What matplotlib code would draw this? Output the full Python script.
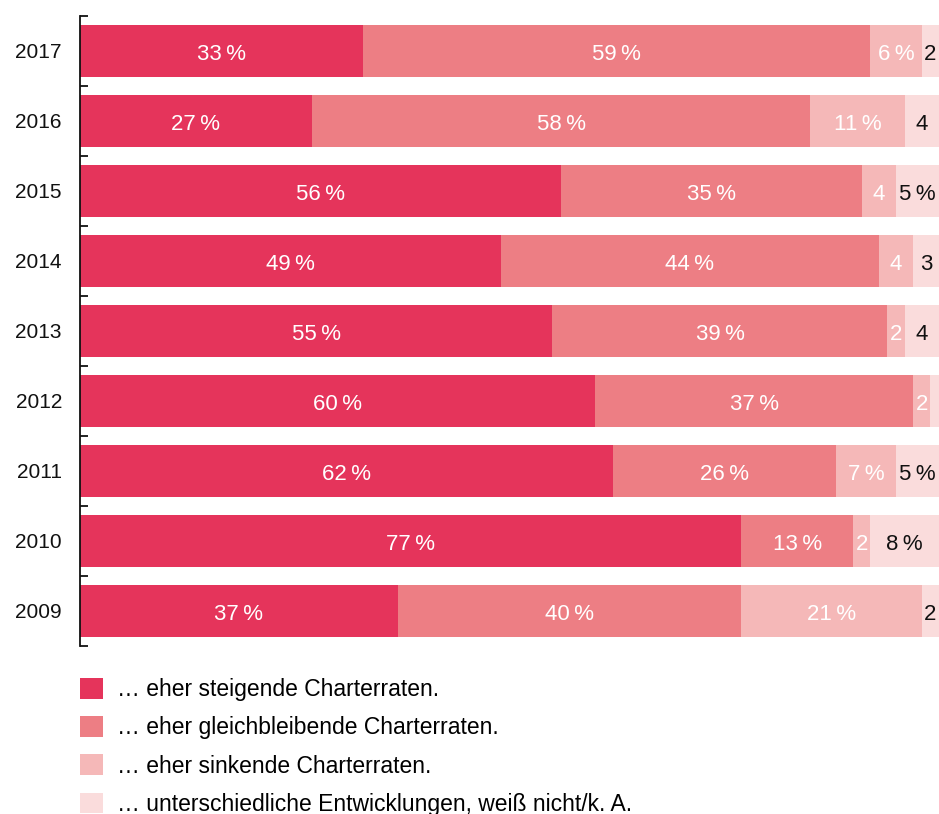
import matplotlib
matplotlib.use("Agg")
import matplotlib.pyplot as plt
from matplotlib.patches import Patch
import numpy as np

plt.rcParams['font.family'] = ['Liberation Sans', 'DejaVu Sans']

years = ["2017", "2016", "2015", "2014", "2013", "2012", "2011", "2010", "2009"]
steigend = [33, 27, 56, 49, 55, 60, 62, 77, 37]
gleichbleibend = [59, 58, 35, 44, 39, 37, 26, 13, 40]
sinkend = [6, 11, 4, 4, 2, 2, 7, 2, 21]
unterschiedlich = [2, 4, 5, 3, 4, 1, 5, 8, 2]

series_names = [
    "\u2026 eher steigende Charterraten.",
    "\u2026 eher gleichbleibende Charterraten.",
    "\u2026 eher sinkende Charterraten.",
    "\u2026 unterschiedliche Entwicklungen, wei\u00df nicht/k. A.",
]
colors = ["#E5345B", "#ED7E84", "#F5B8B8", "#FADCDC"]
label_colors = ["white", "white", "white", "#111111"]

W, H = 939, 814
fig = plt.figure(figsize=(W / 100, H / 100), dpi=100)
ax = fig.add_axes([80 / W, (H - 646) / H, 859 / W, 630 / H])

n = len(years)
ypos = np.arange(n)[::-1]  # 2017 at the top
left = np.zeros(n)
for vals, col, lcol in zip([steigend, gleichbleibend, sinkend, unterschiedlich],
                           colors, label_colors):
    vals = np.array(vals, dtype=float)
    bars = ax.barh(ypos, vals, left=left, height=0.757, color=col,
                   edgecolor="none", zorder=2)
    labels = []
    for v in vals:
        v = int(v)
        if v >= 5:
            labels.append(f"{v}\u2009%")
        elif v >= 2:
            labels.append(f"{v}")
        else:
            labels.append("")
    anns = ax.bar_label(bars, labels=labels, label_type="center", color=lcol,
                        fontsize=16)
    for a in anns:
        a.xyann = (0, -2.2)
    left += vals

ax.set_xlim(0, 100)
ax.set_ylim(-0.5, n - 0.5)
ax.set_yticks(ypos)
ax.set_yticklabels(years, fontsize=15, color="#111111")
ax.tick_params(axis="y", which="major", length=0, pad=13)
ax.set_yticks(np.arange(-0.5, n, 1.0), minor=True)
ax.tick_params(axis="y", which="minor", direction="in", length=6,
               width=1.3, color="#111111")
for t in ax.yaxis.get_minorticklines():
    t.set_clip_on(False)
ax.set_xticks([])
for side in ["top", "right", "bottom"]:
    ax.spines[side].set_visible(False)
ax.spines["left"].set_linewidth(1.3)
ax.spines["left"].set_color("#111111")
ax.spines["left"].set_zorder(3)

handles = [Patch(facecolor=c, edgecolor="none") for c in colors]
fig.legend(handles, series_names, loc="upper left",
           bbox_to_anchor=(80 / W, (H - 678) / H), frameon=False,
           fontsize=16.5, handlelength=1.0, handleheight=1.0,
           handletextpad=0.6, labelspacing=0.66, borderpad=0,
           borderaxespad=0)

fig.savefig("out.png", dpi=100)
